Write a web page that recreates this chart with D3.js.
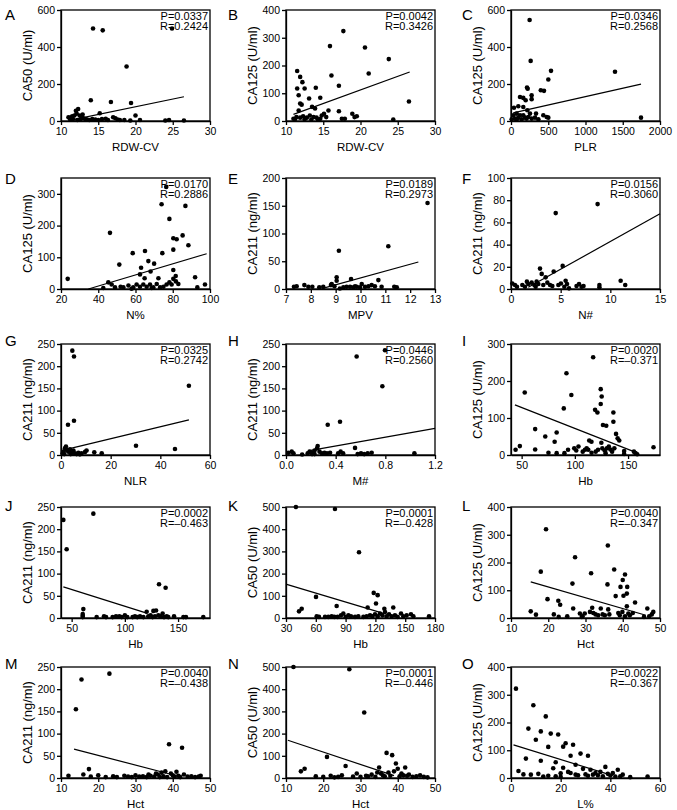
<!DOCTYPE html>
<html><head><meta charset="utf-8">
<script src="https://cdn.jsdelivr.net/npm/d3@7"></script>
<style>
body{margin:0;background:#fff}
text{font-family:"Liberation Sans",Arial,Helvetica,sans-serif;fill:#000}
</style>
</head><body>
<svg id="chart" width="677" height="810"></svg>
<script>
// ---------- DATA ----------
const letters = ["A","B","C","D","E","F","G","H","I","J","K","L","M","N","O"];
const xTitles = ["RDW-CV","RDW-CV","PLR","N%","MPV","N#","NLR","M#","Hb","Hb","Hb","Hct","Hct","Hct","L%"];
const yTitles = ["CA50 (U/ml)","CA125 (U/ml)","CA125 (U/ml)","CA125 (U/ml)","CA211 (ng/ml)","CA211 (ng/ml)",
  "CA211 (ng/ml)","CA211 (ng/ml)","CA125 (U/ml)","CA211 (ng/ml)","CA50 (U/ml)","CA125 (U/ml)",
  "CA211 (ng/ml)","CA50 (U/ml)","CA125 (U/ml)"];
const pValues = ["0.0337","0.0042","0.0346","0.0170","0.0189","0.0156","0.0325","0.0446","0.0020","0.0002","0.0001","0.0040","0.0040","0.0001","0.0022"];
const rValues = ["0.2424","0.3426","0.2568","0.2886","0.2973","0.3060","0.2742","0.2560","\u20130.371","\u20130.463","\u20130.428","\u20130.347","\u20130.438","\u20130.446","\u20130.367"];
const xDomains = [[10,30],[10,30],[0,2000],[20,100],[7,13],[0,15],[0,60],[0,1.2],[40,180],[40,180],[30,180],[10,50],[10,50],[10,50],[0,60]];
const yDomains = [[0,600],[0,400],[0,600],[0,350],[0,200],[0,100],[0,250],[0,250],[0,300],[0,250],[0,500],[0,400],[0,250],[0,500],[0,400]];
const xTickValues = [[10,15,20,25,30],[10,15,20,25,30],[0,500,1000,1500,2000],[20,40,60,80,100],[7,8,9,10,11,12,13],
  [0,5,10,15],[0,20,40,60],[0,0.4,0.8,1.2],[50,100,150],[50,100,150],[30,60,90,120,150,180],[10,20,30,40,50],
  [10,20,30,40,50],[10,20,30,40,50],[0,20,40,60]];
const yTickValues = [[0,200,400,600],[0,100,200,300,400],[0,200,400,600],[0,100,200,300],[0,50,100,150,200],
  [0,20,40,60,80,100],[0,50,100,150,200,250],[0,50,100,150,200,250],[0,100,200,300],[0,50,100,150,200,250],
  [0,100,200,300,400,500],[0,100,200,300,400],[0,50,100,150,200,250],[0,100,200,300,400,500],[0,100,200,300,400]];
const fitSlopes = [8.3,9.8,0.0906,1.75,12.3,5.0,1.345,49.5,-1.132,-0.753,-1.343,-3.9,-2.18,-5.6,-2.77];
const fitIntercepts = [-89,-84,41,-60.7,-103,-7.2,9.7,0.6,185,101.8,193,190,94.5,229,122];
const fitStarts = [11,11,30,34.7,8.44,1.74,0.94,0.19,43.7,42.2,30.7,15.3,13.5,10.5,1];
const fitEnds = [26.5,26.6,1745,98.2,12.33,15,51.5,1.2,155.5,120.5,129,46.2,41,39,41];

const dataA = [[14.3,500],[15.6,490],[18.8,295],[24.9,500],[14.0,112],[16.7,103],[19.4,97],[20.0,30],[15.2,42],[11.0,20],[11.3,18],[11.5,25],[11.8,30],[12.0,55],[12.3,65],[12.1,40],[12.5,30],[12.8,20],[13.0,15],[13.3,10],[13.5,8],[11.6,10],[12.2,5],[12.6,8],[13.8,5],[14.2,10],[14.6,8],[15.0,5],[15.5,10],[16.0,12],[16.3,5],[17.0,20],[17.3,15],[17.6,8],[17.9,5],[18.5,5],[19.3,3],[20.6,5],[24.0,3],[24.5,5],[26.5,3],[12.9,35],[11.2,12]];
const dataB = [[17.7,324],[15.9,270],[20.6,265],[23.8,223],[21.1,171],[16.1,164],[11.5,180],[11.9,159],[12.2,140],[12.5,117],[11.5,117],[14.0,120],[17.1,127],[11.7,93],[13.1,81],[14.6,84],[11.9,63],[12.1,59],[13.5,51],[13.9,45],[26.5,70],[15.7,38],[17.1,35],[11.7,38],[11.0,8],[11.4,14],[11.9,12],[12.3,17],[12.8,12],[13.2,20],[13.7,14],[14.1,12],[14.6,8],[14.8,20],[15.1,26],[15.4,14],[17.5,8],[17.9,8],[18.9,26],[19.2,14],[19.5,17],[24.4,5],[11.2,6],[12.5,6],[13.4,5],[14.3,5]];
const dataC = [[250,546],[264,325],[537,271],[1396,266],[501,224],[215,181],[224,174],[400,166],[443,163],[277,139],[277,118],[121,130],[165,125],[197,112],[98,80],[165,76],[40,72],[219,58],[31,31],[76,40],[336,40],[434,31],[479,22],[501,18],[1745,18],[54,13],[98,18],[143,9],[188,18],[233,22],[277,13],[322,18],[367,9],[9,9],[121,31],[255,40],[165,31],[210,13],[76,7]];
const dataD = [[76.5,322],[74.0,267],[86.8,262],[78.2,221],[46.3,177],[85.3,169],[80.3,160],[82.1,157],[88.4,138],[58.5,113],[74.4,113],[65.1,120],[80.3,124],[51.3,77],[66.9,88],[70,80],[63,67],[68.1,55],[80.3,60],[81.6,41],[80.3,32],[62.4,46],[64.9,34],[72.3,34],[92,37],[23.6,32],[45.4,21],[47.2,14],[97.3,14],[93.2,5],[42.7,3],[49,5],[53.5,5],[56.2,11],[58.8,5],[60.6,14],[62.4,7],[64.2,14],[66,7],[67.8,14],[69.6,5],[71.4,16],[73.2,5],[75,7],[76.7,14],[78.2,21],[79.4,14],[81.7,24],[83,16],[52,7],[57.9,1],[68.7,3]];
const dataE = [[12.7,155],[9.13,69],[11.12,77],[9.04,21],[9.04,15],[9.62,18],[10.72,16],[7.32,4],[7.43,5],[7.74,7],[7.9,4],[8.06,4],[8.34,3],[8.5,4],[8.81,7],[8.95,5],[9.17,1],[9.31,3],[9.44,4],[9.58,4],[9.71,3],[9.85,4],[9.98,3],[10.18,4],[10.32,5],[10.45,7],[10.58,5],[10.85,4],[11.36,4],[11.46,3],[8.84,9],[10.05,9],[9.78,5]];
const dataF = [[8.72,76.5],[4.5,68.4],[4.3,15.7],[5.2,20.8],[2.92,18.4],[3.09,13.6],[3.49,10.5],[11.04,7.5],[11.5,3.6],[5.5,7.5],[0.13,5],[0.4,3.6],[0.6,2],[1.14,3.6],[1.6,6.6],[1.74,4.5],[2.08,5.7],[2.35,3.6],[2.48,2],[2.75,4.5],[3.25,3.6],[3.66,5.7],[3.93,3.6],[4.16,2.7],[4.77,3.6],[5.03,5],[5.37,2],[5.64,4.5],[5.84,0.6],[6.6,2.7],[6.85,4.5],[7.1,2],[7.3,2.7],[8.9,3.6],[8.9,1.5],[1.41,2],[2.58,6.6]];
const dataG = [[4.56,235],[5.23,222],[51.5,156],[5.23,77],[2.82,68],[30.2,21],[45.9,13.5],[0.9,7.5],[1.6,15],[2.0,19],[2.3,11],[2.95,7.5],[3.6,13],[4.3,5],[5,10],[5.6,4],[7,5],[8.3,4],[9.7,7],[10.3,10],[13.4,6],[16.4,4],[0.7,4],[1.3,2],[6.3,2],[7.6,1.5],[3.9,2]];
const dataH = [[0.797,236],[0.569,222],[0.776,155],[0.435,75],[0.336,68],[0.019,5],[0.046,7.5],[0.06,4],[0.13,1],[0.175,4],[0.19,7.5],[0.21,5],[0.23,10],[0.25,15],[0.255,20],[0.27,7.5],[0.29,4],[0.31,5],[0.33,4],[0.355,5],[0.42,4],[0.44,7.5],[0.46,4],[0.556,16],[0.577,2],[0.604,4],[0.63,2],[0.658,4],[0.69,5],[1.034,4],[0.21,2],[0.23,2]];
const dataI = [[117.2,264],[92.1,221],[52.9,169],[96.7,162],[124.3,178],[125.2,158],[124.3,138],[89.6,126],[119,122],[121.2,115],[136.2,115],[136.2,90],[126.4,81],[129.5,79],[138.7,57],[140.2,45],[141.7,39],[62.7,70],[82.9,61],[72.2,50],[81,36],[113.5,39],[115.6,36],[124.9,33],[48.3,24],[44.3,14],[62.7,15],[75.2,6],[82.9,5],[93.6,14],[99.4,18],[101.3,12],[103.4,23],[90.2,5],[107.4,9],[109.5,14],[111.1,18],[112.6,14],[115.7,6],[119.6,9],[121.8,14],[125.8,18],[128,12],[130.1,18],[131.9,23],[133.4,15],[135,9],[137.1,18],[128.9,5],[146.3,11],[146.3,3],[155.5,9],[157,5],[158.6,2],[173.9,21]];
const dataJ = [[42.2,221],[45.3,155],[70.4,235],[132.1,76],[138.3,68],[61,20],[60.4,9],[60.4,5],[120.5,14],[126.8,16],[129.3,17],[135.5,10],[73.5,2],[80.4,4],[82.3,2],[88.5,2],[91.7,4],[94.8,4],[97,2],[100,6],[102.3,2],[107.3,2],[109.5,4],[111.7,2],[114.2,4],[117.4,2],[122,4],[124.2,6],[126.1,2],[128.3,4],[131.5,6],[133.6,4],[136.8,2],[139.3,4],[140.8,2],[146.2,4],[155,2],[157.4,2],[173.7,2],[60.4,2]];
const dataK = [[40,500],[79.3,491],[103.5,296],[60.2,95],[81,54],[118.3,113],[122.3,103],[120.6,65],[112.2,47],[138,47],[129,42],[43.1,30],[45.8,42],[60.9,8],[69.3,5],[72.6,5],[76,8],[78.7,5],[82,5],[85.4,12],[87.7,20],[90,5],[92.8,12],[95.4,8],[99.5,5],[102.8,8],[107.9,5],[111.2,8],[114.6,12],[116.9,8],[119.6,17],[122.3,8],[124.6,20],[127,12],[129.7,27],[131.3,8],[133.7,17],[136.4,8],[139.7,12],[142.4,5],[145.8,20],[148.1,8],[151.5,12],[155.8,17],[158.2,8],[174,8],[63.2,5]];
const dataL = [[19.4,320],[36,261],[27.2,219],[18,167],[37.7,175],[31.5,161],[40.6,157],[40,137],[39.4,112],[41.2,112],[35.9,121],[26.5,124],[38.1,79],[40.2,80],[41.1,88],[19.8,68],[22.7,62],[23.2,48],[43.3,56],[15.3,24],[16.7,12],[21.5,13],[22.8,4],[25.1,6],[26.7,34],[29.2,6],[29.8,16],[31.8,37],[31.2,22],[32.1,18],[32.7,13],[33.4,10],[34.1,34],[34.6,13],[35.2,10],[36.1,31],[36.4,13],[38.8,18],[39.2,10],[39.9,22],[40.6,6],[41.1,42],[41.5,16],[41.9,10],[42.7,18],[45.7,4],[46.6,34],[47.1,6],[47.8,13],[48.2,22],[29,4],[28.5,16]];
const dataM = [[15.5,222],[14,155],[23,235],[39,76],[42.5,68],[17.5,20],[12,5],[16,8],[18,3],[20,6],[22,2],[24,4],[25,2],[27,5],[28,3],[29,2],[30,6],[31,3],[32,4],[33,2],[34,5],[35,3],[36,8],[37,12],[37.5,4],[38,15],[38.5,2],[39.5,10],[40,6],[40.5,3],[41,14],[41.5,5],[42,2],[43,8],[44,3],[45,4],[46,2],[47,3],[47.5,5],[35.5,10],[33.5,8],[36.5,2]];
const dataN = [[12,500],[27,490],[31,295],[21,95],[26,54],[37,113],[38.5,103],[39.5,65],[35,47],[42,47],[40,42],[14,30],[15,42],[18,8],[20,5],[22,10],[24,5],[25,12],[28,6],[29,20],[30,5],[31.5,10],[32,8],[33,15],[34,5],[35.5,20],[36,12],[36.5,8],[37.5,25],[38,10],[39,30],[40.5,8],[41,20],[41.5,12],[42.5,10],[43,15],[44,5],[45,8],[46,12],[47,5],[48,3],[23,3],[34.5,25]];
const dataO = [[2,322],[9,262],[14,222],[7,178],[12,168],[16,160],[19,157],[10,138],[22,125],[25,120],[21,113],[15,112],[28,88],[24,80],[31,80],[6,70],[12,62],[18,57],[26,48],[3,25],[5,13],[8,12],[11,15],[13,5],[15,8],[17,35],[18,6],[20,17],[21,37],[23,22],[24,18],[26,12],[27,10],[29,33],[30,13],[31,8],[32,30],[33,12],[34,18],[35,10],[36,22],[37,6],[38,40],[39,15],[40,9],[41,18],[42,5],[43,30],[44,6],[45,12],[20,4],[55,5],[48,3]];
const panelData = [dataA,dataB,dataC,dataD,dataE,dataF,dataG,dataH,dataI,dataJ,dataK,dataL,dataM,dataN,dataO];

// ---------- LAYOUT ----------
const colLeft = [61, 286, 511];
const rowTop = [10, 178, 344, 507, 667];
const plotW = 149, plotH = 111;
const letterX = [5, 228, 462];
const letterY = [20, 184, 346, 511, 669];

const svg = d3.select("#chart");

panelData.forEach((pts, i) => {
  const r = Math.floor(i / 3), c = i % 3;
  const L = colLeft[c], T = rowTop[r];
  const x = d3.scaleLinear().domain(xDomains[i]).range([L, L + plotW]);
  const y = d3.scaleLinear().domain(yDomains[i]).range([T + plotH, T]);
  const g = svg.append("g");

  const fmtX = i === 7 ? d3.format(".1f") : d3.format("d");

  // frame
  g.append("rect").attr("x", L).attr("y", T).attr("width", plotW).attr("height", plotH)
    .attr("fill", "none").attr("stroke", "#000").attr("stroke-width", 1.3);

  const xa = g.append("g").attr("transform", `translate(0,${T + plotH})`)
    .call(d3.axisBottom(x).tickValues(xTickValues[i]).tickFormat(fmtX).tickSize(4).tickSizeOuter(0).tickPadding(3));
  const ya = g.append("g").attr("transform", `translate(${L},0)`)
    .call(d3.axisLeft(y).tickValues(yTickValues[i]).tickFormat(d3.format("d")).tickSize(4).tickSizeOuter(0).tickPadding(2));
  [xa, ya].forEach(a => {
    a.selectAll("path").attr("stroke-width", 1.3);
    a.selectAll("line").attr("stroke-width", 1.3);
    a.selectAll("text").attr("font-size", 10.5).attr("font-family", '"Liberation Sans",Arial,sans-serif');
  });

  // regression line
  g.append("line")
    .attr("x1", x(fitStarts[i])).attr("y1", y(fitSlopes[i] * fitStarts[i] + fitIntercepts[i]))
    .attr("x2", x(fitEnds[i])).attr("y2", y(fitSlopes[i] * fitEnds[i] + fitIntercepts[i]))
    .attr("stroke", "#000").attr("stroke-width", 1.2);

  // points
  g.selectAll("circle.pt").data(pts).enter().append("circle")
    .attr("cx", d => x(d[0])).attr("cy", d => y(d[1])).attr("r", 2.3).attr("fill", "#000");

  // stats
  g.append("text").attr("x", L + plotW - 2).attr("y", T + 9.5).attr("text-anchor", "end")
    .attr("font-size", 11).text("P=" + pValues[i]);
  g.append("text").attr("x", L + plotW - 2).attr("y", T + 20).attr("text-anchor", "end")
    .attr("font-size", 11).text("R=" + rValues[i]);

  // axis titles
  g.append("text").attr("x", L + plotW / 2).attr("y", T + plotH + 30).attr("text-anchor", "middle")
    .attr("font-size", 11.5).text(xTitles[i]);
  g.append("text").attr("transform", `translate(${L - 29},${T + plotH / 2}) rotate(-90)`)
    .attr("text-anchor", "middle").attr("font-size", 13).text(yTitles[i]);

  // panel letter
  g.append("text").attr("x", letterX[c]).attr("y", letterY[r]).attr("font-size", 15).text(letters[i]);
});
</script>
</body></html>
